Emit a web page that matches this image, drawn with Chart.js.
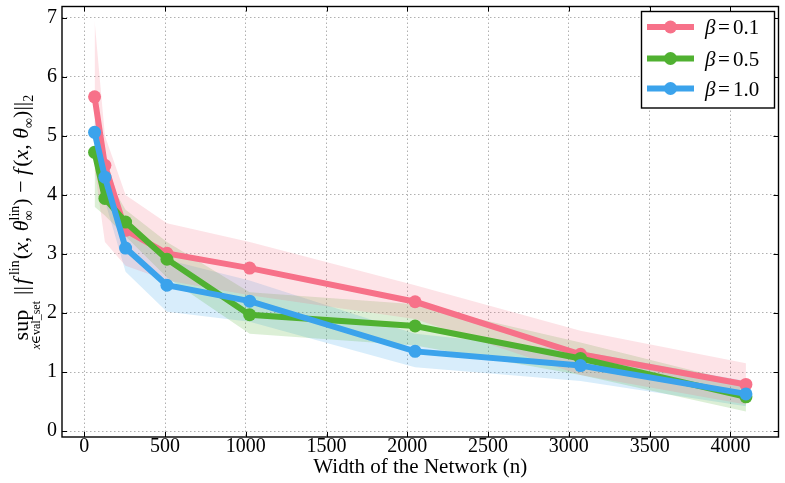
<!DOCTYPE html>
<html><head><meta charset="utf-8">
<script src="https://cdn.jsdelivr.net/npm/chart.js@4.4.0/dist/chart.umd.min.js"></script>
<style>html,body{margin:0;padding:0;background:#fff}#wrap{width:785px;height:483px}</style>
</head><body><div id="wrap"><canvas id="c" width="785" height="483"></canvas></div>
<script>
// ---- data ----
const widths = [64, 128, 256, 512, 1024, 2048, 3072, 4096];
const betaLabels = ['0.1', '0.5', '1.0'];
const mean01 = [5.66, 4.50, 3.40, 3.01, 2.76, 2.19, 1.30, 0.79];
const upper01 = [6.95, 5.00, 4.00, 3.52, 3.20, 2.47, 1.70, 1.15];
const lower01 = [4.45, 3.20, 2.80, 2.55, 2.30, 1.90, 0.95, 0.45];
const mean05 = [4.72, 3.94, 3.54, 2.91, 1.97, 1.78, 1.23, 0.58];
const upper05 = [5.00, 4.35, 3.75, 3.20, 2.35, 2.15, 1.50, 0.80];
const lower05 = [3.80, 3.65, 3.30, 2.60, 1.65, 1.45, 0.95, 0.33];
const mean10 = [5.06, 4.30, 3.10, 2.47, 2.20, 1.35, 1.11, 0.63];
const upper10 = [5.30, 4.70, 3.50, 2.90, 2.55, 1.65, 1.35, 0.85];
const lower10 = [4.80, 3.90, 2.70, 2.02, 1.85, 1.08, 0.85, 0.42];
const xTicks = [0, 500, 1000, 1500, 2000, 2500, 3000, 3500, 4000];
const yTicks = [0, 1, 2, 3, 4, 5, 6, 7];

const colors = ['#f77189', '#50b131', '#3ba3ec'];
const bandColors = ['rgba(247,113,137,0.2)', 'rgba(80,177,49,0.2)', 'rgba(59,163,236,0.2)'];
const SERIF = '"Liberation Serif","DejaVu Serif",serif';

const pts = arr => widths.map((w, i) => ({x: w, y: arr[i]}));
const series = [[mean01, upper01, lower01], [mean05, upper05, lower05], [mean10, upper10, lower10]];
const datasets = [];
series.forEach((s, k) => {
  datasets.push({label: 'up' + k, data: pts(s[1]), fill: '+1', backgroundColor: bandColors[k],
    borderWidth: 0, pointRadius: 0, order: 20 + k});
  datasets.push({label: 'lo' + k, data: pts(s[2]), fill: false, borderWidth: 0, pointRadius: 0, order: 20 + k});
});
series.forEach((s, k) => {
  datasets.push({label: 'β = ' + betaLabels[k], data: pts(s[0]), fill: false, borderColor: colors[k],
    backgroundColor: colors[k], borderWidth: 6, pointRadius: 6.5, pointBorderWidth: 0,
    pointBackgroundColor: colors[k], order: 3 - k});
});

const frameTicks = {
  id: 'frameTicks',
  afterDraw(chart) {
    const {ctx, chartArea: a, scales} = chart;
    ctx.save();
    ctx.strokeStyle = '#000';
    ctx.lineWidth = 1;
    const tl = 5;
    xTicks.forEach(v => {
      const px = Math.round(scales.x.getPixelForValue(v)) + 0.5;
      ctx.beginPath(); ctx.moveTo(px, a.bottom); ctx.lineTo(px, a.bottom - tl);
      ctx.moveTo(px, a.top); ctx.lineTo(px, a.top + tl); ctx.stroke();
    });
    yTicks.forEach(v => {
      const py = Math.round(scales.y.getPixelForValue(v)) + 0.5;
      ctx.beginPath(); ctx.moveTo(a.left, py); ctx.lineTo(a.left + tl, py);
      ctx.moveTo(a.right, py); ctx.lineTo(a.right - tl, py); ctx.stroke();
    });
    ctx.lineWidth = 1.4;
    ctx.strokeRect(a.left, a.top, a.right - a.left, a.bottom - a.top);
    // x title
    ctx.fillStyle = '#000';
    ctx.font = '21px ' + SERIF;
    ctx.textAlign = 'center'; ctx.textBaseline = 'middle';
    ctx.fillText('Width of the Network (n)', (a.left + a.right) / 2, 467);
    // legend
    const lx = 641.5, ly = 11.5, lw = 133, lh = 96.5;
    ctx.fillStyle = '#fff';
    ctx.fillRect(lx, ly, lw, lh);
    ctx.lineWidth = 1.4; ctx.strokeStyle = '#000';
    ctx.strokeRect(lx, ly, lw, lh);
    const rows = [27, 58.5, 88.5];
    betaLabels.forEach((b, k) => {
      const y = rows[k];
      ctx.strokeStyle = colors[k]; ctx.lineWidth = 6; ctx.lineCap = 'butt';
      ctx.beginPath(); ctx.moveTo(647, y); ctx.lineTo(694, y); ctx.stroke();
      ctx.fillStyle = colors[k];
      ctx.beginPath(); ctx.arc(670.5, y, 6.5, 0, Math.PI * 2); ctx.fill();
      ctx.fillStyle = '#000'; ctx.textAlign = 'left'; ctx.textBaseline = 'alphabetic';
      ctx.font = 'italic 21px ' + SERIF;
      ctx.fillText('β', 705, y + 7);
      ctx.font = '21px ' + SERIF;
      ctx.fillText('=', 718, y + 7);
      ctx.fillText(b, 733, y + 7);
    });
    drawYLabel(ctx);
    ctx.restore();
  }
};

function drawYLabel(ctx) {
  const M = 22, S = 14, T = 12;
  const seg = [
    {t: '||', f: M}, {gap: 2}, {t: 'f', f: M, it: 1}, {gap: 3}, {t: 'lin', f: S, dy: -9}, {gap: 1},
    {t: '(', f: M}, {t: 'x', f: M, it: 1}, {t: ', ', f: M}, {t: 'θ', f: M, it: 1},
    {t: 'lin', f: S, dy: -9, stack: 1}, {t: '∞', f: S, dy: 5},
    {t: ')', f: M}, {t: ' − ', f: M}, {t: 'f', f: M, it: 1}, {gap: 2}, {t: '(', f: M}, {t: 'x', f: M, it: 1},
    {t: ', ', f: M}, {t: 'θ', f: M, it: 1}, {t: '∞', f: S, dy: 5}, {t: ')', f: M}, {t: '||', f: M},
    {t: '2', f: S, dy: 5}
  ];
  const fnt = s => (s.it ? 'italic ' : '') + s.f + 'px ' + SERIF;
  ctx.font = M + 'px ' + SERIF;
  const supW = ctx.measureText('sup').width;
  const subParts = [{t: 'x', f: T, it: 1}, {t: '∈', f: T}, {t: 'val_set', f: T}];
  let subW = 0;
  subParts.forEach(p => { ctx.font = fnt(p); subW += ctx.measureText(p.t).width; });
  const head = Math.max(supW, subW);
  let w = 0, stackStart = null, stackW = 0;
  const layout = [];
  seg.forEach(s => {
    if (s.gap) { w += s.gap; return; }
    ctx.font = fnt(s);
    const mw = ctx.measureText(s.t).width;
    if (s.stack) { stackStart = w; stackW = mw; layout.push({s, x: w}); return; }
    if (stackStart !== null) { layout.push({s, x: stackStart}); w = stackStart + Math.max(stackW, mw); stackStart = null; return; }
    layout.push({s, x: w}); w += mw;
  });
  const gap = 6;
  const total = head + gap + w;
  const cy = 222, bx = 28;
  ctx.save();
  ctx.translate(bx, cy + total / 2);
  ctx.rotate(-Math.PI / 2);
  ctx.fillStyle = '#000'; ctx.textAlign = 'left'; ctx.textBaseline = 'alphabetic';
  ctx.font = M + 'px ' + SERIF;
  ctx.fillText('sup', (head - supW) / 2, 0);
  let sx = (head - subW) / 2;
  subParts.forEach(p => { ctx.font = fnt(p); ctx.fillText(p.t, sx, 12); sx += ctx.measureText(p.t).width; });
  const off = head + gap;
  layout.forEach(({s, x}) => { ctx.font = fnt(s); ctx.fillText(s.t, off + x, s.dy || 0); });
  ctx.restore();
}

new Chart(document.getElementById('c'), {
  type: 'line',
  data: {datasets},
  options: {
    responsive: false, devicePixelRatio: 1, animation: false,
    layout: {padding: {left: 0, right: 4, top: 3, bottom: 0}},
    plugins: {legend: {display: false}, tooltip: {enabled: false}, filler: {drawTime: 'beforeDatasetsDraw'}},
    scales: {
      x: {type: 'linear', min: -137.6, max: 4297.6,
        afterFit: s => { s.height = 46; s.paddingLeft = 0; s.paddingRight = 0; },
        afterBuildTicks: s => { s.ticks = xTicks.map(v => ({value: v})); },
        ticks: {font: {family: SERIF, size: 20}, color: '#000', padding: -2, maxRotation: 0,
          callback: v => String(v)},
        grid: {color: '#b0b0b0', lineWidth: 1, drawTicks: false},
        border: {display: false, dash: [1.5, 2.5]}},
      y: {type: 'linear', min: -0.1, max: 7.19,
        afterFit: s => { s.width = 62; s.paddingTop = 0; s.paddingBottom = 0; },
        afterBuildTicks: s => { s.ticks = yTicks.map(v => ({value: v})); },
        ticks: {font: {family: SERIF, size: 20}, color: '#000', padding: 5, callback: v => String(v)},
        grid: {color: '#b0b0b0', lineWidth: 1, drawTicks: false},
        border: {display: false, dash: [1.5, 2.5]}}
    }
  },
  plugins: [frameTicks]
});
</script></body></html>
